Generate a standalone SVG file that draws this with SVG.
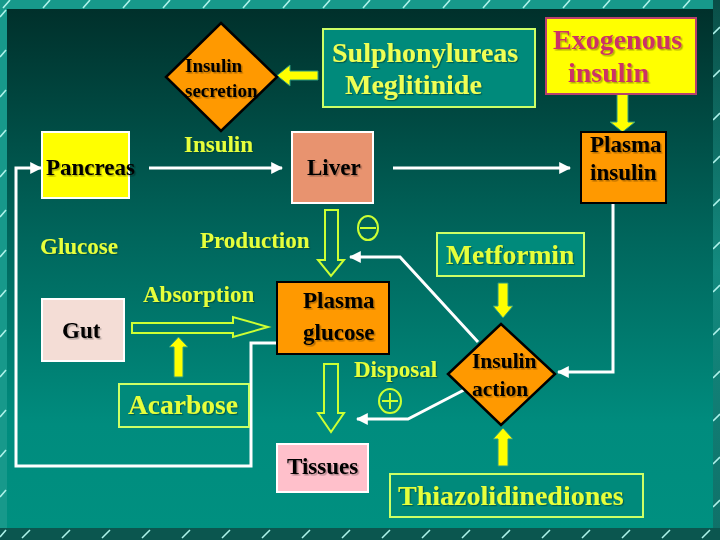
<svg xmlns="http://www.w3.org/2000/svg" width="720" height="540" viewBox="0 0 720 540">
<defs>
<linearGradient id="panel" x1="0" y1="0" x2="0" y2="1">
<stop offset="0" stop-color="#00302b"/>
<stop offset="0.45" stop-color="#00675d"/>
<stop offset="0.8" stop-color="#008c7e"/>
<stop offset="1" stop-color="#009080"/>
</linearGradient>
<linearGradient id="rstrip" x1="0" y1="0" x2="0" y2="1">
<stop offset="0" stop-color="#0a4f48"/>
<stop offset="0.5" stop-color="#138a7f"/>
<stop offset="1" stop-color="#0f7068"/>
</linearGradient>
<filter id="shDark" x="-10%" y="-10%" width="130%" height="140%">
<feDropShadow dx="1.5" dy="1.5" stdDeviation="0.4" flood-color="#000000" flood-opacity="0.3"/>
</filter>
<filter id="shYel" x="-10%" y="-10%" width="130%" height="140%">
<feDropShadow dx="1.2" dy="1.2" stdDeviation="0.4" flood-color="#003a33" flood-opacity="0.55"/>
</filter>
<marker id="wh" viewBox="0 0 10 10" refX="9" refY="5" markerWidth="4" markerHeight="4" orient="auto" markerUnits="strokeWidth">
<path d="M0,0 L10,5 L0,10 z" fill="#ffffff"/>
</marker>
</defs>
<style>
text{font-family:"Liberation Serif","Times New Roman",serif;font-weight:bold}
.blk{fill:#000000;font-size:23px;filter:url(#shDark)}
.lab{fill:#e6ff3a;font-size:23px;filter:url(#shYel)}
.big{fill:#e6ff3a;font-size:28px;filter:url(#shYel)}
.tealbox{fill:#008a7b;stroke:#ccff66;stroke-width:2}
.wl{fill:none;stroke:#ffffff;stroke-width:3;marker-end:url(#wh)}
.hollow{fill:none;stroke:#ccff33;stroke-width:2;stroke-linejoin:miter}
.solid{fill:#ffff00;stroke:#2a9a80;stroke-width:1}
.hatch{fill:none;stroke:#aef2ea;stroke-width:1.6}
</style>

<g id="background">
<rect x="0" y="0" width="720" height="540" fill="#17998b"/>
<rect x="713" y="0" width="7" height="540" fill="url(#rstrip)"/>
<rect x="0" y="528" width="720" height="12" fill="#0b564f"/>
<path class="hatch" d="M3,8 l7,-8 M43,8 l7,-8 M83,8 l7,-8 M123,8 l7,-8 M163,8 l7,-8 M203,8 l7,-8 M243,8 l7,-8 M283,8 l7,-8 M323,8 l7,-8 M363,8 l7,-8 M403,8 l7,-8 M443,8 l7,-8 M483,8 l7,-8 M523,8 l7,-8 M563,8 l7,-8 M603,8 l7,-8 M643,8 l7,-8 M683,8 l7,-8
M0,17 l6,-7 M0,57 l6,-7 M0,97 l6,-7 M0,137 l6,-7 M0,177 l6,-7 M0,217 l6,-7 M0,257 l6,-7 M0,297 l6,-7 M0,337 l6,-7 M0,377 l6,-7 M0,417 l6,-7 M0,457 l6,-7 M0,497 l6,-7 M0,537 l6,-7
M713,34 l7,-7 M713,77 l7,-7 M713,120 l7,-7 M713,163 l7,-7 M713,206 l7,-7 M713,249 l7,-7 M713,292 l7,-7 M713,335 l7,-7 M713,378 l7,-7 M713,421 l7,-7 M713,464 l7,-7 M713,507 l7,-7
M22,538 l8,-8 M62,538 l8,-8 M102,538 l8,-8 M142,538 l8,-8 M182,538 l8,-8 M222,538 l8,-8 M262,538 l8,-8 M302,538 l8,-8 M342,538 l8,-8 M382,538 l8,-8 M422,538 l8,-8 M462,538 l8,-8 M502,538 l8,-8 M542,538 l8,-8 M582,538 l8,-8 M622,538 l8,-8 M662,538 l8,-8 M702,538 l8,-8"/>
<rect x="7" y="9" width="706" height="519" fill="url(#panel)"/>
</g>

<g id="connectors">
<path class="wl" d="M149,168 H282"/>
<path class="wl" d="M393,168 H570"/>
<path class="wl" d="M613,203 V372 H558"/>
<path class="wl" d="M478,342 L400,257 H350"/>
<path class="wl" d="M464,390 L408,419 H357"/>
<path class="wl" d="M277,343 H251 V466 H16 V168 H41"/>
<polygon class="hollow" points="325,210 338,210 338,260 344,260 331,276 318,260 325,260"/>
<polygon class="hollow" points="324,364 338,364 338,413 344,413 331,432 318,413 324,413"/>
<polygon class="hollow" points="132,323 233,323 233,317 268,327 233,337 233,333 132,333"/>
<polygon class="solid" points="318,71 290,71 290,65 277,75.5 290,86 290,80 318,80"/>
<polygon class="solid" points="617,94 628,94 628,122 635,122 622.5,132 610,122 617,122"/>
<polygon class="solid" points="498,283 508,283 508,306 513,306 503,318 493,306 498,306"/>
<polygon class="solid" points="174,377 183,377 183,347 188,347 178.5,337 169,347 174,347"/>
<polygon class="solid" points="498,466 508,466 508,439 513,439 503,428 493,439 498,439"/>
</g>

<g id="minus" fill="none" stroke="#ccff33" stroke-width="2">
<ellipse cx="368" cy="228" rx="10" ry="12"/>
<line x1="360" y1="228" x2="376" y2="228"/>
</g>
<g id="plus" fill="none" stroke="#ccff33" stroke-width="2">
<ellipse cx="390" cy="401" rx="11" ry="12"/>
<line x1="382" y1="401" x2="398" y2="401"/>
<line x1="390" y1="393" x2="390" y2="409"/>
</g>

<g id="insulin-secretion">
<polygon points="221,23 277,77 221,131 166,77" fill="#ff9900" stroke="#000000" stroke-width="2.5"/>
<text class="blk" x="185" y="72" style="font-size:19px">Insulin</text>
<text class="blk" x="185" y="97" style="font-size:19px">secretion</text>
</g>

<g id="sulphonylureas">
<rect class="tealbox" x="323" y="29" width="212" height="78"/>
<text class="big" x="332" y="62" style="fill:#eeff55">Sulphonylureas</text>
<text class="big" x="345" y="94" style="fill:#eeff55">Meglitinide</text>
</g>

<g id="exogenous-insulin">
<rect x="546" y="18" width="150" height="76" fill="#ffff00" stroke="#b8406e" stroke-width="2"/>
<text x="553" y="49" style="font-size:28px;fill:#cc3366;filter:url(#shDark)">Exogenous</text>
<text x="568" y="82" style="font-size:28px;fill:#cc3366;filter:url(#shDark)">insulin</text>
</g>

<g id="pancreas">
<rect x="42" y="132" width="87" height="66" fill="#ffff00" stroke="#ffffff" stroke-width="2"/>
<text class="blk" x="46" y="175">Pancreas</text>
</g>

<g id="insulin-label">
<text class="lab" x="184" y="152">Insulin</text>
</g>

<g id="liver">
<rect x="292" y="132" width="81" height="71" fill="#e8936f" stroke="#ffffff" stroke-width="2"/>
<text class="blk" x="307" y="175">Liver</text>
</g>

<g id="plasma-insulin">
<rect x="581" y="132" width="85" height="71" fill="#ff9900" stroke="#000000" stroke-width="2"/>
<text class="blk" x="590" y="152">Plasma</text>
<text class="blk" x="590" y="180">insulin</text>
</g>

<g id="glucose-label">
<text class="lab" x="40" y="254">Glucose</text>
</g>

<g id="production-label">
<text class="lab" x="200" y="248">Production</text>
</g>

<g id="metformin">
<rect class="tealbox" x="437" y="233" width="147" height="43"/>
<text class="big" x="446" y="264" style="font-size:27.5px">Metformin</text>
</g>

<g id="absorption-label">
<text class="lab" x="143" y="302">Absorption</text>
</g>

<g id="gut">
<rect x="42" y="299" width="82" height="62" fill="#f4ddd6" stroke="#ffffff" stroke-width="2"/>
<text class="blk" x="62" y="338">Gut</text>
</g>

<g id="plasma-glucose">
<rect x="277" y="282" width="112" height="72" fill="#ff9900" stroke="#000000" stroke-width="2"/>
<text class="blk" x="303" y="308">Plasma</text>
<text class="blk" x="303" y="340">glucose</text>
</g>

<g id="disposal-label">
<text class="lab" x="354" y="377">Disposal</text>
</g>

<g id="insulin-action">
<polygon points="501,324 555,374 501,425 448,374" fill="#ff9900" stroke="#000000" stroke-width="2.5"/>
<text class="blk" x="472" y="368" style="font-size:21.5px">Insulin</text>
<text class="blk" x="472" y="396" style="font-size:21.5px">action</text>
</g>

<g id="acarbose">
<rect class="tealbox" x="119" y="384" width="130" height="43"/>
<text class="big" x="128" y="414" style="font-size:27.5px">Acarbose</text>
</g>

<g id="tissues">
<rect x="277" y="444" width="91" height="48" fill="#ffc0cb" stroke="#ffffff" stroke-width="2"/>
<text class="blk" x="287" y="474">Tissues</text>
</g>

<g id="thiazolidinediones">
<rect class="tealbox" x="390" y="474" width="253" height="43"/>
<text class="big" x="398" y="505">Thiazolidinediones</text>
</g>
</svg>
